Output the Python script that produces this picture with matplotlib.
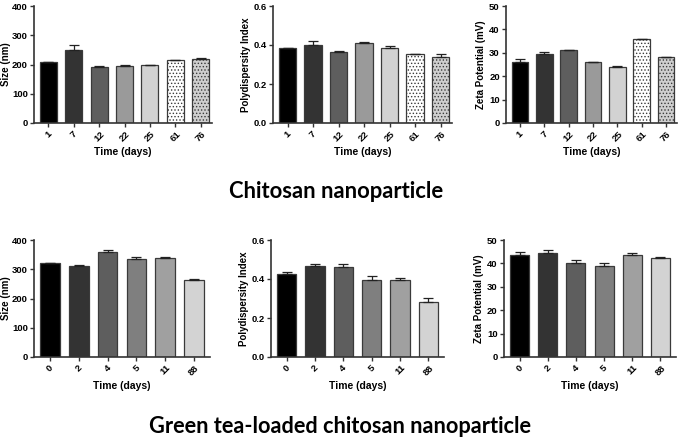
import matplotlib
matplotlib.use("Agg")
import matplotlib.pyplot as plt

plt.rcParams['font.family'] = ['Liberation Sans', 'DejaVu Sans']
plt.rcParams['hatch.linewidth'] = 0.6
plt.rcParams['hatch.color'] = '#808080'

# Chitosan nanoparticle
cs_days = ['1', '7', '12', '22', '25', '61', '76']
cs_size = [207, 250, 193, 195, 199, 215, 220]
cs_size_err = [3, 15, 1, 2, 1, 2, 2]
cs_pdi = [0.385, 0.398, 0.366, 0.410, 0.386, 0.352, 0.338]
cs_pdi_err = [0.002, 0.025, 0.004, 0.003, 0.010, 0.004, 0.018]
cs_zeta = [26.0, 29.5, 31.0, 26.0, 24.0, 35.8, 28.0]
cs_zeta_err = [1.5, 0.8, 0.3, 0.2, 0.4, 0.1, 0.3]
cs_colors = ['#000000', '#333333', '#5e5e5e', '#9a9a9a', '#d2d2d2', '#ffffff', '#cfcfcf']
cs_hatch = ['', '', '', '', '', '.....', '.....']

# Green tea-loaded chitosan nanoparticle
gt_days = ['0', '2', '4', '5', '11', '88']
gt_size = [321, 312, 360, 336, 338, 262]
gt_size_err = [2, 1, 5, 7, 5, 4]
gt_pdi = [0.425, 0.465, 0.462, 0.395, 0.397, 0.283]
gt_pdi_err = [0.010, 0.012, 0.013, 0.020, 0.008, 0.020]
gt_zeta = [43.5, 44.5, 40.3, 39.0, 43.5, 42.2]
gt_zeta_err = [1.5, 1.2, 1.2, 1.2, 0.8, 0.4]
gt_colors = ['#000000', '#333333', '#5e5e5e', '#7f7f7f', '#a0a0a0', '#d3d3d3']
gt_hatch = [''] * 6

W, H = 685, 437
fig = plt.figure(figsize=(W / 100, H / 100), dpi=100)


def panel(x0, x1, y0, y1, labels, vals, errs, colors, hatches, ylim, yticks, ylabel, xlim, ytickfmt, lpad=2):
    ax = fig.add_axes([x0 / W, 1 - y1 / H, (x1 - x0) / W, (y1 - y0) / H])
    xs = list(range(len(labels)))
    bars = ax.bar(xs, vals, width=0.68, color=colors, edgecolor='#3a3a3a', linewidth=0.9, zorder=2)
    for b, h in zip(bars, hatches):
        if h:
            b.set_hatch(h)
    ax.errorbar(xs, vals, yerr=[[0] * len(errs), errs], fmt='none', ecolor='#222222',
                elinewidth=0.9, capsize=3.5, capthick=0.9, zorder=3)
    ax.set_xlim(*xlim)
    ax.set_ylim(*ylim)
    ax.set_yticks(yticks)
    ax.set_yticklabels([ytickfmt(v) for v in yticks], fontsize=6.8, fontweight='bold')
    ax.set_xticks(xs)
    ax.set_xticklabels(labels, rotation=45, fontsize=6.8, fontweight='bold', ha='center')
    ax.set_ylabel(ylabel, fontsize=7, fontweight='bold', labelpad=lpad)
    ax.set_xlabel('Time (days)', fontsize=7.5, fontweight='bold', labelpad=3)
    for s in ['top', 'right']:
        ax.spines[s].set_visible(False)
    for s in ['left', 'bottom']:
        ax.spines[s].set_linewidth(1.2)
        ax.spines[s].set_color('#333333')
    ax.tick_params(axis='both', length=3, width=1.0, color='#333333', pad=1.5)
    ax.set_facecolor('none')
    return ax


f_int = lambda v: f'{v:g}'
f_pdi = lambda v: f'{v:.1f}'

xl7 = (-0.57, 6.45)
xl6 = (-0.55, 5.55)

panel(34, 212, 6, 123, cs_days, cs_size, cs_size_err, cs_colors, cs_hatch,
      (0, 400), [0, 100, 200, 300, 400], 'Size (nm)', xl7, f_int, lpad=0.8)
panel(273, 452, 6, 123, cs_days, cs_pdi, cs_pdi_err, cs_colors, cs_hatch,
      (0, 0.6), [0.0, 0.2, 0.4, 0.6], 'Polydispersity Index', xl7, f_pdi)
panel(506, 677, 6, 123, cs_days, cs_zeta, cs_zeta_err, cs_colors, cs_hatch,
      (0, 50), [0, 10, 20, 30, 40, 50], 'Zeta Potential (mV)', xl7, f_int)

panel(34, 210, 240, 357, gt_days, gt_size, gt_size_err, gt_colors, gt_hatch,
      (0, 400), [0, 100, 200, 300, 400], 'Size (nm)', xl6, f_int, lpad=0.8)
panel(271, 444, 240, 357, gt_days, gt_pdi, gt_pdi_err, gt_colors, gt_hatch,
      (0, 0.6), [0.0, 0.2, 0.4, 0.6], 'Polydispersity Index', xl6, f_pdi)
panel(504, 676, 240, 357, gt_days, gt_zeta, gt_zeta_err, gt_colors, gt_hatch,
      (0, 50), [0, 10, 20, 30, 40, 50], 'Zeta Potential (mV)', xl6, f_int)

fig.text(336 / W, 1 - 192 / H, 'Chitosan nanoparticle', ha='center', va='center',
         fontsize=15.8, fontweight='bold', family=['Lato', 'DejaVu Sans'])
fig.text(340 / W, 1 - 433 / H, 'Green tea-loaded chitosan nanoparticle', ha='center', va='baseline',
         fontsize=15.7, fontweight='bold', family=['Lato', 'DejaVu Sans'])

fig.savefig('out.png', dpi=100, facecolor='white')
